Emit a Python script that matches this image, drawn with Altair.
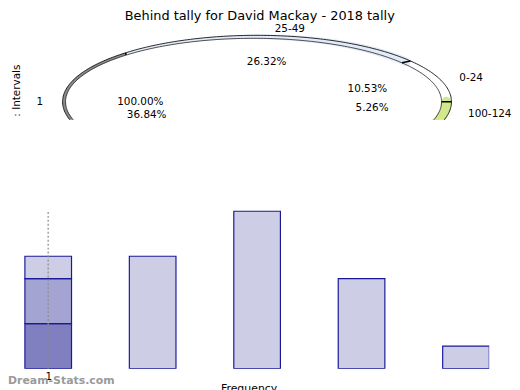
import altair as alt
import pandas as pd

# ---------------- data ----------------
title_text = "Behind tally for David Mackay - 2018 tally"

pie_labels = ["0-24", "25-49", "50-74", "75-99", "100-124"]
pie_counts = [2, 5, 7, 4, 1]
pie_colors = ["#ffffff", "#e4ebf8", "#8c8c8c", "#bdbdbd", "#d2e88c"]

shadow_labels = ["1"]
shadow_counts = [1]
side_title = ": Intervals"

bar_positions = [1, 1, 1, 2, 3, 4, 5]
bar_values = [2, 2, 1, 5, 7, 4, 1]
bar_layers = [0, 1, 2, 0, 0, 0, 0]
bar_colors = ["#8080c0", "#a4a4d2", "#cdcde5", "#cdcde5", "#cdcde5", "#cdcde5", "#cdcde5"]
x_tick_values = [1]
x_title = "Frequency"
watermark = "Dream-Stats.com"

# ---------------- geometry / style ----------------
FONT = "DejaVu Sans"
RX, RY = 196, 67                        # outer rim of the tilted pie (px)
IDX, IDY, IRX, IRY = -3.5, 0, 189.5, 64   # inner rim
TOP_W, TOP_H = 506, 94
BOT_W, BOT_H = 485, 169
VISIBLE_MIN = -18                        # lower edge of the pie panel

xs_top = alt.Scale(domain=[-251, 255], nice=False, zero=False)
ys_top = alt.Scale(domain=[VISIBLE_MIN, 76], nice=False, zero=False)
y_axis_top = alt.Axis(title=side_title, labels=False, ticks=False, domain=False, grid=False,
                      titleX=9, titleY=38, titleAngle=270, titleAlign="right",
                      titleBaseline="middle", titleFontSize=10.5, titleFont=FONT,
                      titleFontWeight="normal", titleColor="black")


def X(f):
    return alt.X(f, type="quantitative", scale=xs_top, axis=None)


def Y(f):
    return alt.Y(f, type="quantitative", scale=ys_top, axis=y_axis_top)


def pie_base(labels, counts, colors):
    df = pd.DataFrame({"label": labels, "count": counts, "color": colors,
                       "idx": list(range(len(labels)))})
    return (alt.Chart(df)
            .transform_joinaggregate(total="sum(count)")
            .transform_window(cum="sum(count)", sort=[alt.SortField("idx")], frame=[None, 0])
            .transform_calculate(
                a0="(datum.cum - datum.count) / datum.total * 2 * PI",
                a1="datum.cum / datum.total * 2 * PI",
                am="(datum.a0 + datum.a1) / 2",
                pct="format(datum.count / datum.total * 100, '.2f') + '%'",
                lx=f"1.1 * {RX} * cos(datum.am)",
                ly=f"1.1 * {RY} * sin(datum.am)",
                px=f"0.6 * {RX} * cos(datum.am)",
                py=f"0.6 * {RY} * sin(datum.am)",
            ))


base = pie_base(pie_labels, pie_counts, pie_colors)
shadow = pie_base(shadow_labels, shadow_counts, ["#888888"])

# coloured rim bands
bands = (base
         .transform_calculate(steps="sequence(0, 61)")
         .transform_flatten(["steps"], as_=["k"])
         .transform_calculate(
             t="datum.a0 + (datum.a1 - datum.a0) * datum.k / 60",
             ox=f"{RX} * cos(datum.t)", oy=f"{RY} * sin(datum.t)",
             ix=f"{IDX} + {IRX} * cos(datum.t)", iy=f"{IDY} + {IRY} * sin(datum.t)",
             mx="(datum.ox + datum.ix) / 2", my="(datum.oy + datum.iy) / 2",
             w="sqrt(pow(datum.ox - datum.ix, 2) + pow(datum.oy - datum.iy, 2))",
         )
         .mark_trail(clip=True)
         .encode(x=X("mx"), y=Y("my"),
                 size=alt.Size("w:Q", scale=None, legend=None),
                 color=alt.Color("color:N", scale=None),
                 detail="label:N", order=alt.Order("k:Q")))

ring = alt.Chart(alt.sequence(0, 361, as_="deg")).transform_calculate(
    t="datum.deg * PI / 180",
    ox=f"{RX} * cos(datum.t)", oy=f"{RY} * sin(datum.t)",
    ix=f"{IDX} + {IRX} * cos(datum.t)", iy=f"{IDY} + {IRY} * sin(datum.t)",
)
outer = ring.mark_line(clip=True, color="#111111", strokeWidth=0.9).encode(
    x=X("ox"), y=Y("oy"), order=alt.Order("deg:Q"))
inner = ring.mark_line(clip=True, color="#222222", strokeWidth=0.8).encode(
    x=X("ix"), y=Y("iy"), order=alt.Order("deg:Q"))

seps = (base.transform_calculate(
            sx=f"{IDX} + {IRX} * cos(datum.a0)", sy=f"{IDY} + {IRY} * sin(datum.a0)",
            ex=f"{RX} * cos(datum.a0)", ey=f"{RY} * sin(datum.a0)")
        .mark_rule(clip=True, color="black", strokeWidth=1.4)
        .encode(x=X("sx"), y=Y("sy"), x2="ex:Q", y2="ey:Q"))

txt = dict(font=FONT, fontSize=10.5, color="black", baseline="middle")


def label_layers(b):
    vis_l = f"datum.ly > {VISIBLE_MIN}"
    vis_p = f"datum.py > {VISIBLE_MIN}"
    right = (b.transform_filter("cos(datum.am) >= 0").transform_filter(vis_l)
             .mark_text(align="left", **txt).encode(x=X("lx"), y=Y("ly"), text="label:N"))
    left = (b.transform_filter("cos(datum.am) < 0").transform_filter(vis_l)
            .mark_text(align="right", **txt).encode(x=X("lx"), y=Y("ly"), text="label:N"))
    pcts = (b.transform_filter(vis_p)
            .mark_text(align="center", **txt).encode(x=X("px"), y=Y("py"), text="pct:N"))
    return [right, left, pcts]


top = alt.layer(bands, outer, inner, seps, *label_layers(base), *label_layers(shadow)).properties(
    width=TOP_W, height=TOP_H)

# ---------------- bottom bar panel ----------------
bars_df = pd.DataFrame({"pos": bar_positions, "value": bar_values,
                        "layer": bar_layers, "color": bar_colors})
totals = bars_df.groupby("pos")["value"].sum()
rule_df = pd.DataFrame({"pos": x_tick_values, "lo": [0], "hi": [int(totals.max())]})

xs_bot = alt.Scale(domain=[0.615, 5.222], nice=False, zero=False, padding=0)
ys_bot = alt.Scale(domain=[0, 7.455], nice=False, zero=True, padding=0)
x_axis_bot = alt.Axis(values=x_tick_values, title=x_title, ticks=False, domain=False, grid=False,
                      labelFont=FONT, labelFontSize=10.5, labelColor="black", labelPadding=3,
                      titleFont=FONT, titleFontSize=11, titleFontWeight="normal",
                      titleColor="black", titlePadding=1)

bars = (alt.Chart(bars_df)
        .transform_stack(stack="value", groupby=["pos"], as_=["y0", "y1"],
                         sort=[alt.SortField("layer")])
        .mark_bar(width=47, stroke="#1a1a99", strokeWidth=1.2, clip=True)
        .encode(x=alt.X("pos:Q", scale=xs_bot, axis=x_axis_bot),
                y=alt.Y("y0:Q", scale=ys_bot, axis=None), y2="y1:Q",
                color=alt.Color("color:N", scale=None)))

rule = (alt.Chart(rule_df)
        .mark_rule(color="#8a8a8a", strokeDash=[2, 2], strokeWidth=1.6, opacity=0.75)
        .encode(x=alt.X("pos:Q", scale=xs_bot, axis=x_axis_bot),
                y=alt.Y("lo:Q", scale=ys_bot, axis=None), y2="hi:Q"))

wm = (alt.Chart(pd.DataFrame({"t": [watermark]}))
      .mark_text(font=FONT, fontSize=11, fontWeight="bold", color="#9a9a9a",
                 align="left", baseline="middle")
      .encode(text="t:N", x=alt.value(0), y=alt.value(BOT_H + 12)))

bottom = alt.layer(bars, rule, wm).properties(width=BOT_W, height=BOT_H)

chart = (alt.vconcat(top, bottom, spacing=82, bounds="flush",
                     title=alt.Title(title_text, font=FONT, fontSize=13, fontWeight="normal",
                                     anchor="middle", offset=1, color="black"))
         .properties(padding=0)
         .configure_view(stroke=None))

chart.save("out.html", embed_options={"renderer": "svg", "actions": False})
